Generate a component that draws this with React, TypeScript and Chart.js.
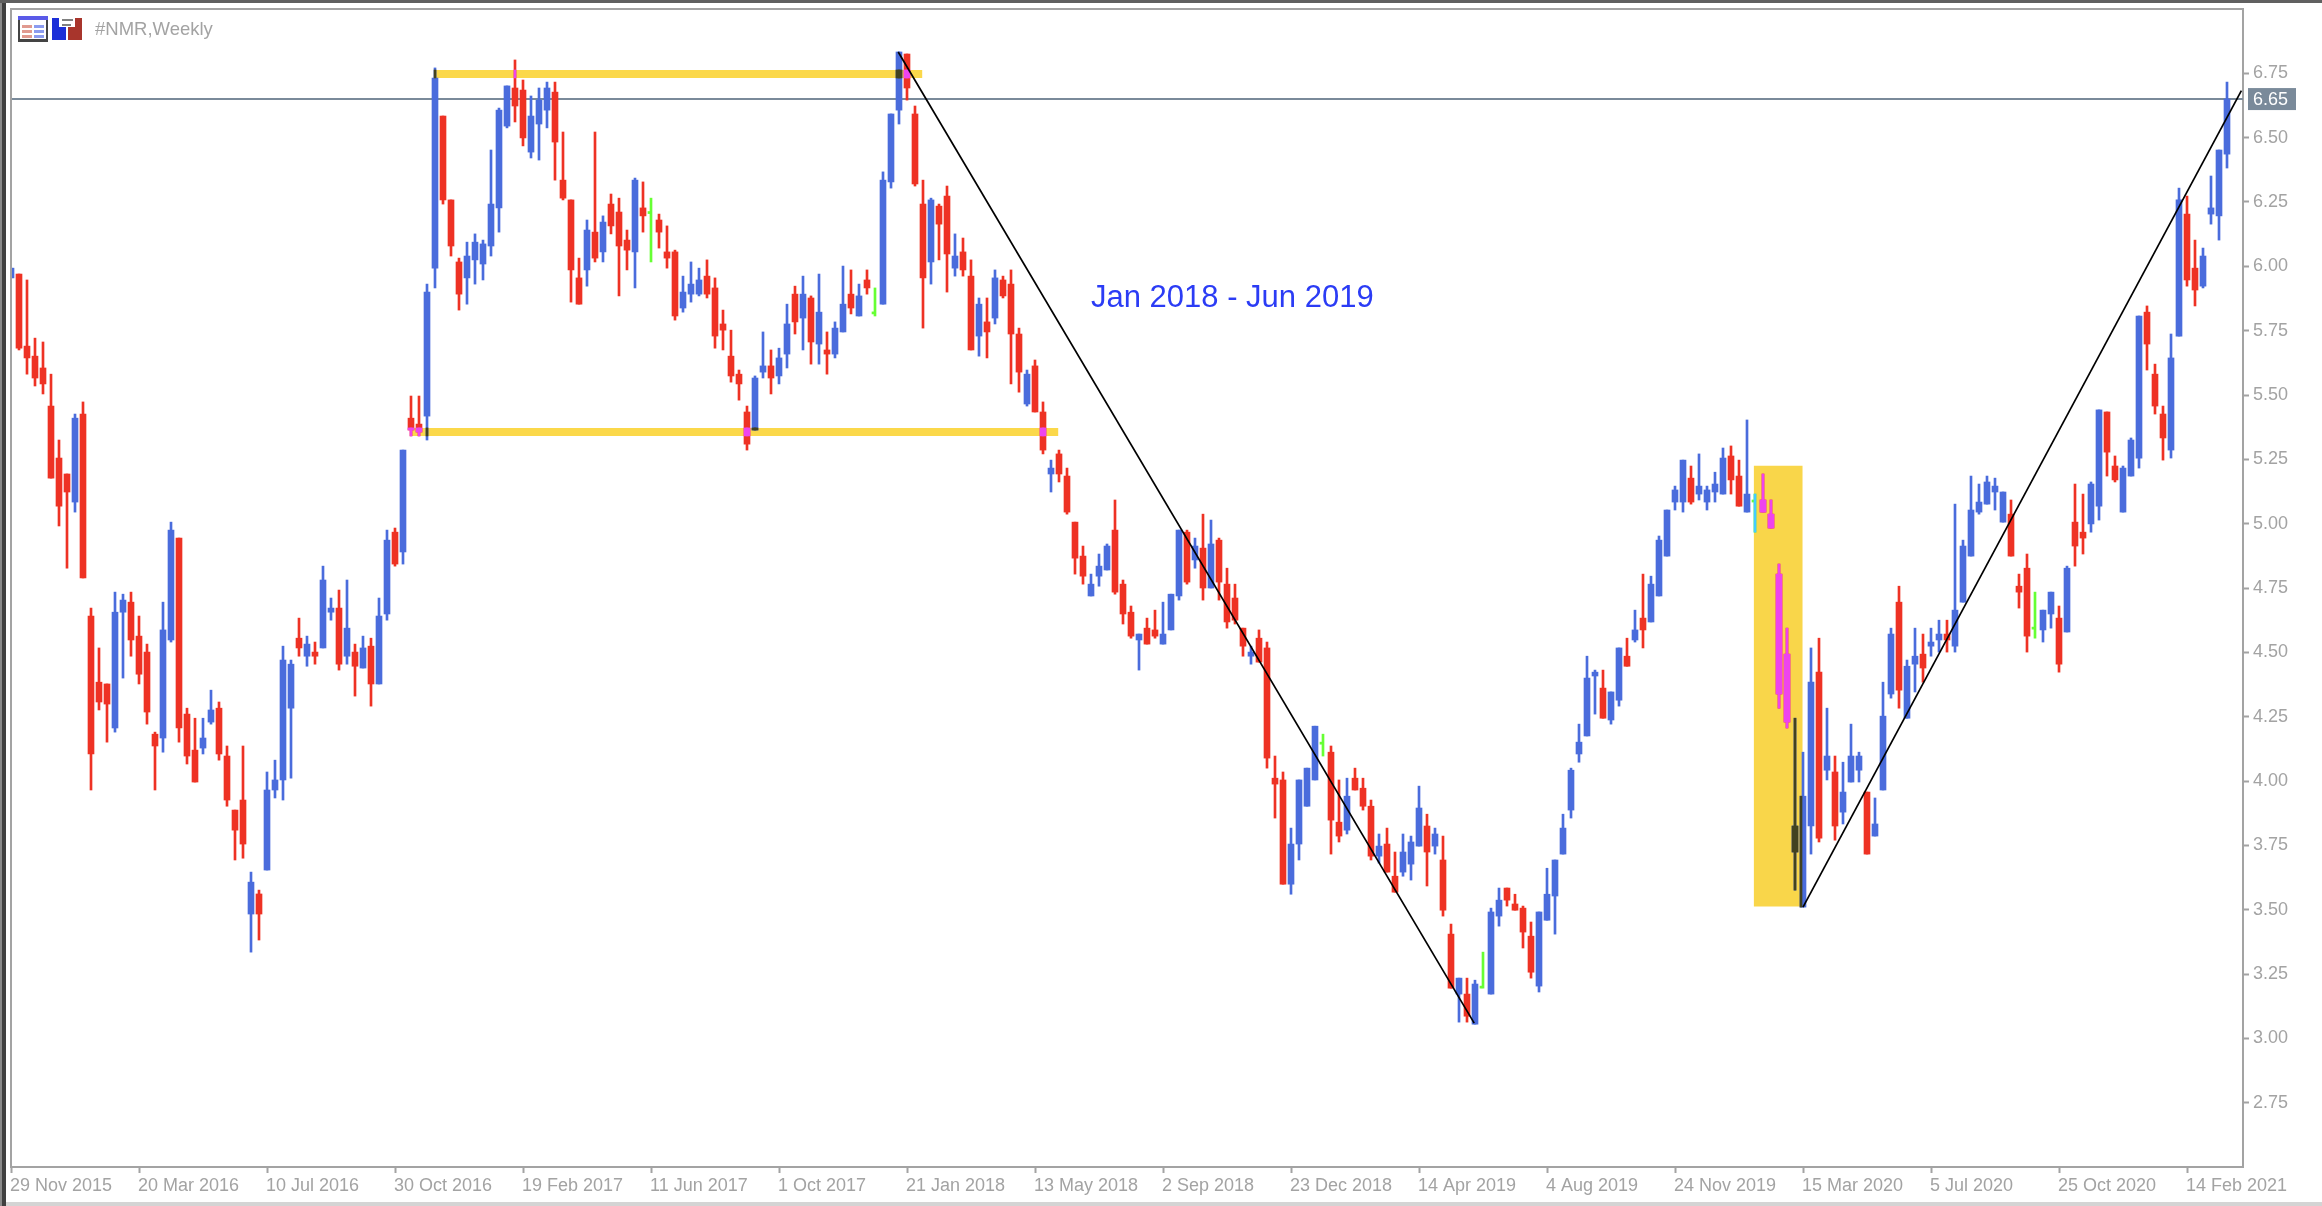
import React, { useEffect, useRef } from "react";
import { Chart, registerables } from "chart.js";

Chart.register(...registerables);

const symbolTitle = "#NMR,Weekly";
const noteText = "Jan 2018 - Jun 2019";
const lastPrice = 6.65;

const dateLabels = ["29 Nov 2015","20 Mar 2016","10 Jul 2016","30 Oct 2016","19 Feb 2017","11 Jun 2017","1 Oct 2017","21 Jan 2018","13 May 2018","2 Sep 2018","23 Dec 2018","14 Apr 2019","4 Aug 2019","24 Nov 2019","15 Mar 2020","5 Jul 2020","25 Oct 2020","14 Feb 2021"];

const highs = [
5.993,5.970,5.947,5.721,5.706,5.581,5.325,5.193,5.426,5.473,
4.672,4.517,4.377,4.734,4.726,4.734,4.641,4.532,4.190,4.695,
5.006,4.944,4.283,4.244,4.244,4.353,4.307,4.136,3.887,4.136,
3.646,3.576,4.035,4.081,4.524,4.470,4.633,4.563,4.540,4.835,
4.711,4.742,4.781,4.532,4.563,4.555,4.711,4.975,4.983,5.286,
5.496,5.496,5.931,6.771,6.584,6.258,6.032,6.094,6.126,6.102,
6.452,6.615,6.701,6.802,6.724,6.662,6.693,6.716,6.716,6.522,
6.258,6.032,6.180,6.522,6.196,6.281,6.265,6.141,6.343,6.328,
6.265,6.203,6.157,6.063,5.962,6.017,5.993,6.025,5.955,5.830,
5.752,5.597,5.457,5.574,5.745,5.675,5.682,5.853,5.923,5.962,
5.885,5.970,5.745,5.784,6.001,5.986,5.931,5.986,5.916,6.367,
6.592,6.833,6.825,6.623,6.335,6.265,6.242,6.312,6.126,6.110,
6.025,5.877,5.877,5.986,5.962,5.986,5.760,5.597,5.636,5.473,
5.247,5.286,5.216,5.006,4.913,4.804,4.882,4.921,5.092,4.781,
4.680,4.571,4.633,4.664,4.695,4.726,4.975,4.975,4.944,5.037,
5.014,4.944,4.827,4.765,4.594,4.524,4.587,4.540,4.097,4.035,
3.817,4.004,4.050,4.213,4.182,4.136,4.004,4.011,4.050,4.011,
3.926,3.794,3.817,3.724,3.794,3.786,3.980,3.871,3.817,3.786,
3.444,3.234,3.234,3.226,3.335,3.506,3.584,3.584,3.560,3.514,
3.452,3.491,3.661,3.693,3.871,4.050,4.221,4.485,4.431,4.431,
4.346,4.517,4.555,4.664,4.804,4.796,4.952,5.053,5.146,5.247,
5.224,5.271,5.146,5.200,5.294,5.302,5.247,5.403,5.115,5.193,
5.092,4.843,4.594,4.244,4.112,4.517,4.555,4.283,4.097,4.073,
4.221,4.112,3.957,3.934,4.384,4.594,4.757,4.470,4.594,4.571,
4.594,4.625,4.625,5.076,4.936,5.185,5.154,5.185,5.177,5.123,
5.092,4.804,4.882,4.734,4.664,4.734,4.680,4.835,5.154,5.115,
5.162,5.442,5.434,5.263,5.224,5.333,5.807,5.846,5.620,5.457,
5.737,6.304,6.273,6.102,6.071,6.351,6.452,6.716];

const lows = [
5.955,5.675,5.581,5.535,5.504,5.177,4.991,4.827,5.045,4.789,
3.965,4.276,4.151,4.190,4.400,4.485,4.377,4.221,3.965,4.112,
4.540,4.151,4.066,3.996,4.105,4.221,4.081,3.902,3.693,3.700,
3.335,3.382,3.654,3.934,3.926,4.011,4.485,4.446,4.454,4.517,
4.625,4.431,4.454,4.330,4.439,4.291,4.377,4.625,4.835,4.843,
5.341,5.341,5.325,5.916,6.242,6.040,5.830,5.853,5.931,5.947,
6.040,6.133,6.538,6.561,6.468,6.421,6.413,6.538,6.335,6.258,
5.861,5.853,5.923,6.017,6.017,6.126,5.885,5.986,5.916,6.133,
6.017,6.071,5.993,5.791,5.822,5.861,5.885,5.877,5.682,5.675,
5.550,5.480,5.286,5.364,5.566,5.504,5.543,5.605,5.737,5.675,
5.620,5.620,5.581,5.644,5.745,5.815,5.807,5.892,5.807,5.853,
6.304,6.553,6.646,6.312,5.760,5.931,6.025,5.900,5.962,5.962,
5.675,5.651,5.644,5.776,5.877,5.543,5.511,5.457,5.434,5.271,
5.123,5.162,5.037,4.804,4.765,4.719,4.757,4.820,4.726,4.610,
4.555,4.431,4.532,4.555,4.532,4.587,4.703,4.765,4.827,4.703,
4.750,4.703,4.594,4.610,4.485,4.454,4.462,4.050,3.856,3.599,
3.560,3.693,3.902,4.004,4.097,3.716,3.763,3.794,3.965,3.887,
3.693,3.681,3.646,3.568,3.630,3.615,3.747,3.592,3.716,3.475,
3.195,3.063,3.063,3.055,3.195,3.172,3.436,3.514,3.498,3.351,
3.234,3.180,3.459,3.405,3.716,3.856,4.073,4.175,4.260,4.244,
4.221,4.291,4.446,4.540,4.517,4.618,4.719,4.874,5.053,5.045,
5.076,5.092,5.053,5.084,5.115,5.115,5.068,5.045,4.967,5.045,
4.983,4.283,4.206,3.576,3.510,3.716,3.763,4.004,3.770,3.833,
3.996,3.996,3.716,3.786,3.965,4.322,4.283,4.244,4.346,4.384,
4.485,4.501,4.501,4.501,4.695,4.874,5.037,5.076,5.053,5.006,
4.874,4.672,4.501,4.555,4.540,4.594,4.423,4.579,4.835,4.882,
4.967,5.014,5.185,5.162,5.045,5.185,5.216,5.597,5.426,5.247,
5.255,5.729,5.923,5.846,5.916,6.164,6.102,6.382];

const opens = [
5.955,5.970,5.690,5.651,5.605,5.457,5.255,5.193,5.084,5.426,
4.641,4.384,4.377,4.206,4.656,4.695,4.563,4.501,4.182,4.167,
4.548,4.944,4.260,4.120,4.128,4.229,4.283,4.097,3.887,3.926,
3.483,3.561,3.654,3.965,4.004,4.283,4.555,4.485,4.501,4.517,
4.656,4.672,4.485,4.501,4.439,4.524,4.377,4.649,4.967,4.890,
5.410,5.387,5.418,5.993,6.584,6.258,6.017,5.955,6.025,6.009,
6.079,6.227,6.545,6.693,6.685,6.444,6.553,6.607,6.677,6.335,
6.258,5.955,5.986,6.133,6.056,6.242,6.211,6.102,6.056,6.227,
6.209,6.180,6.056,6.056,5.838,5.892,5.892,5.962,5.916,5.776,
5.651,5.581,5.434,5.364,5.589,5.613,5.574,5.659,5.892,5.799,
5.877,5.698,5.675,5.659,5.745,5.892,5.807,5.947,5.819,5.853,
6.328,6.607,6.825,6.592,6.242,6.017,6.234,6.273,5.993,6.056,
5.962,5.729,5.784,5.799,5.947,5.931,5.737,5.465,5.613,5.434,
5.193,5.271,5.185,5.006,4.874,4.719,4.796,4.820,4.975,4.765,
4.656,4.548,4.594,4.587,4.532,4.587,4.719,4.967,4.859,4.905,
4.750,4.936,4.765,4.711,4.594,4.485,4.555,4.517,4.011,4.004,
3.599,3.755,3.902,4.004,4.147,4.112,3.840,3.809,4.011,3.972,
3.902,3.708,3.755,3.630,3.646,3.677,3.747,3.825,3.747,3.693,
3.405,3.172,3.172,3.055,3.199,3.172,3.475,3.584,3.522,3.506,
3.397,3.203,3.459,3.553,3.716,3.887,4.105,4.175,4.408,4.361,
4.237,4.314,4.485,4.548,4.633,4.618,4.719,4.874,5.084,5.084,
5.177,5.115,5.084,5.123,5.115,5.263,5.185,5.045,5.088,5.092,
5.037,4.804,4.493,3.724,3.510,3.825,4.423,4.042,4.035,3.879,
3.996,4.042,3.957,3.786,3.965,4.338,4.695,4.244,4.454,4.493,
4.524,4.548,4.571,4.524,4.695,4.874,5.045,5.076,5.123,5.006,
5.037,4.757,4.827,4.594,4.587,4.649,4.633,4.579,5.006,4.967,
4.999,5.068,5.434,5.224,5.045,5.185,5.255,5.822,5.581,5.426,
5.286,5.729,6.203,5.993,5.923,6.203,6.196,6.436];

const closes = [
5.993,5.682,5.644,5.566,5.543,5.177,5.068,5.123,5.410,4.789,
4.105,4.307,4.299,4.656,4.703,4.548,4.415,4.268,4.136,4.587,
4.975,4.206,4.097,3.996,4.167,4.276,4.105,3.926,3.809,3.755,
3.607,3.483,3.965,4.004,4.470,4.454,4.517,4.532,4.485,4.781,
4.672,4.454,4.594,4.446,4.517,4.377,4.641,4.936,4.843,5.286,
5.364,5.356,5.900,6.732,6.258,6.079,5.892,6.040,6.094,6.087,
6.242,6.607,6.701,6.623,6.499,6.584,6.646,6.693,6.483,6.265,
5.986,5.853,6.141,6.032,6.172,6.157,6.079,6.063,6.335,6.196,
6.209,6.133,6.032,5.807,5.900,5.931,5.947,5.892,5.729,5.752,
5.574,5.543,5.309,5.566,5.613,5.566,5.644,5.776,5.784,5.892,
5.706,5.822,5.659,5.760,5.853,5.838,5.885,5.916,5.819,6.335,
6.592,6.833,6.693,6.320,5.955,6.258,6.164,6.048,6.040,5.986,
5.675,5.853,5.745,5.955,5.885,5.737,5.589,5.581,5.434,5.286,
5.216,5.193,5.045,4.866,4.796,4.765,4.835,4.913,4.734,4.649,
4.563,4.571,4.532,4.563,4.571,4.726,4.975,4.773,4.913,4.750,
4.921,4.773,4.618,4.625,4.524,4.501,4.462,4.089,3.988,3.599,
3.755,4.004,4.050,4.213,4.147,3.848,3.786,3.941,3.965,3.902,
3.708,3.747,3.646,3.568,3.724,3.763,3.895,3.724,3.794,3.498,
3.195,3.234,3.086,3.211,3.199,3.491,3.537,3.537,3.498,3.413,
3.257,3.491,3.560,3.693,3.817,4.042,4.151,4.400,4.423,4.244,
4.346,4.517,4.446,4.587,4.587,4.765,4.936,5.053,5.131,5.247,
5.084,5.146,5.131,5.154,5.255,5.170,5.068,5.115,5.088,5.045,
4.983,4.338,4.229,3.825,3.941,4.384,3.778,4.097,3.825,3.957,
4.097,4.097,3.716,3.833,4.252,4.571,4.353,4.446,4.485,4.439,
4.540,4.571,4.548,4.664,4.913,5.053,5.084,5.162,5.146,5.123,
4.874,4.734,4.563,4.594,4.664,4.734,4.454,4.827,4.913,4.944,
5.154,5.442,5.278,5.170,5.216,5.325,5.807,5.698,5.457,5.333,
5.644,6.258,5.947,5.908,6.040,6.227,6.452,6.650];

// Drawn objects, in bar-index / price units
const topBand = { from: 53, to: 113.9, low: 6.732, high: 6.763 };
const bottomBand = { from: 50, to: 130.9, low: 5.341, high: 5.372 };
const shadedBox = { from: 217.9, to: 223.9, low: 3.514, high: 5.224 };
const fallTrend = [{ x: 110.9, y: 6.833 }, { x: 182.9, y: 3.059 }];
const riseTrend = [{ x: 224, y: 3.51 }, { x: 278.8, y: 6.683 }];

const BLUE = "#4A6CDC";
const RED = "#EE3224";
const GREEN = "#66FF33";
const YELLOW = "#FBD84A";
const PINK = "#EE44EE";
const DARK = "#424220";
const CYAN = "#44CCFF";
const AXIS = "#A3A3A3";
const SLATE = "#7A8A9A";
const FONT = "'Liberation Sans', Arial, sans-serif";

const candleIdx = opens.map((_, k) => k);
const isDoji = (k: number) => opens[k] === closes[k];
const baseColor = (k: number) => (isDoji(k) ? GREEN : closes[k] > opens[k] ? BLUE : RED);
const mixColor = (k: number) => (isDoji(k) ? CYAN : closes[k] > opens[k] ? DARK : PINK);

function overlaps(lowOf: (k: number) => number, highOf: (k: number) => number) {
  const out: { x: number; y: number[]; c: string }[] = [];
  for (const band of [topBand, bottomBand, shadedBox]) {
    for (const k of candleIdx) {
      if (k < band.from || k > band.to) continue;
      const a = Math.max(lowOf(k), band.low);
      const b = Math.min(highOf(k), band.high);
      if (b > a) out.push({ x: k, y: [a, b], c: mixColor(k) });
    }
  }
  return out;
}

const frame = {
  id: "frame",
  afterDraw(chart: any) {
    const { ctx, chartArea: a, scales } = chart;
    ctx.save();
    // window frame
    ctx.fillStyle = "#8A8A8A"; ctx.fillRect(0, 0, 2, 1206);
    ctx.fillStyle = "#404040"; ctx.fillRect(2, 0, 4, 1206);
    ctx.fillStyle = "#606060"; ctx.fillRect(0, 0, 2322, 3);
    ctx.fillStyle = "#D4D4D4"; ctx.fillRect(6, 1202, 2316, 4);
    ctx.fillStyle = AXIS;
    ctx.fillRect(a.left - 1, a.top - 1, 2, a.bottom - a.top + 2);
    ctx.fillRect(a.left - 1, a.top - 1, a.right - a.left + 2, 2);
    // toolbar icons
    ctx.fillStyle = "#5A5AE8"; ctx.fillRect(18, 16, 30, 4);
    ctx.fillStyle = "#444"; ctx.fillRect(18, 39, 30, 3); ctx.fillRect(18, 20, 2, 19); ctx.fillRect(46, 20, 2, 19);
    ctx.fillStyle = "#E09A90"; for (let i = 0; i < 3; i++) ctx.fillRect(22, 25 + i * 5, 10, 3);
    ctx.fillStyle = "#8C9CF0"; for (let i = 0; i < 3; i++) ctx.fillRect(34, 25 + i * 5, 10, 3);
    ctx.fillStyle = "#1C2FD8"; ctx.fillRect(52, 18, 7, 22); ctx.fillRect(52, 27, 14, 13);
    ctx.fillStyle = "#A8352C"; ctx.fillRect(75, 18, 7, 22); ctx.fillRect(68, 27, 14, 13);
    ctx.fillStyle = "#808080"; ctx.fillRect(62, 19, 11, 2); ctx.fillRect(62, 24, 9, 2);
    // text
    ctx.textBaseline = "middle";
    ctx.textAlign = "left";
    ctx.fillStyle = AXIS;
    ctx.font = `18.5px ${FONT}`;
    ctx.fillText(symbolTitle, 95, 30);
    ctx.fillStyle = "#2B3CF5";
    ctx.font = `31px ${FONT}`;
    ctx.fillText(noteText, 1091, 298);
    // price tag
    const py = scales.y.getPixelForValue(lastPrice);
    ctx.fillStyle = SLATE;
    ctx.fillRect(2248, py - 11, 48, 22);
    ctx.fillStyle = "#FFFFFF";
    ctx.font = `18px ${FONT}`;
    ctx.fillText(lastPrice.toFixed(2), 2253, py + 1);
    ctx.restore();
  },
};

export default function App() {
  const ref = useRef<HTMLCanvasElement>(null);
  useEffect(() => {
    if (!ref.current) return;
    const wickMix = overlaps((k) => lows[k], (k) => highs[k]);
    const bodyMix = overlaps((k) => Math.min(opens[k], closes[k]), (k) => Math.max(opens[k], closes[k]));
    const bar = (extra: any) => ({ type: "bar", grouped: false, borderWidth: 0, borderSkipped: false, ...extra });
    const line = (extra: any) => ({ type: "line", pointRadius: 0, tension: 0, fill: false, borderCapStyle: "butt", ...extra });
    const chart = new Chart(ref.current, {
      type: "bar",
      plugins: [frame],
      data: {
        datasets: [
          bar({
            label: "box", order: 20, barThickness: 48, backgroundColor: "#F9D64A",
            data: [{ x: (shadedBox.from + shadedBox.to) / 2, y: [shadedBox.low, shadedBox.high] }],
          }),
          line({
            label: "top band", order: 19, borderColor: YELLOW, borderWidth: 8,
            data: [{ x: topBand.from, y: (topBand.low + topBand.high) / 2 }, { x: topBand.to, y: (topBand.low + topBand.high) / 2 }],
          }),
          line({
            label: "bottom band", order: 19, borderColor: YELLOW, borderWidth: 8,
            data: [{ x: bottomBand.from, y: (bottomBand.low + bottomBand.high) / 2 }, { x: bottomBand.to, y: (bottomBand.low + bottomBand.high) / 2 }],
          }),
          line({
            label: "last", order: 18, borderColor: SLATE, borderWidth: 2,
            data: [{ x: 0, y: lastPrice }, { x: 279, y: lastPrice }],
          }),
          bar({
            label: "wicks", order: 10, barThickness: 2,
            backgroundColor: candleIdx.map(baseColor),
            data: candleIdx.map((k) => ({ x: k, y: [lows[k], highs[k]] })),
          }),
          bar({
            label: "bodies", order: 9, barThickness: 6,
            backgroundColor: candleIdx.map((k) => (isDoji(k) ? "rgba(0,0,0,0)" : baseColor(k))),
            data: candleIdx.map((k) => ({ x: k, y: [opens[k], closes[k]] })),
          }),
          bar({
            label: "doji ticks", order: 8, barThickness: 2,
            backgroundColor: GREEN,
            data: candleIdx.filter(isDoji).map((k) => ({ x: k - 0.25, y: [opens[k] - 0.004, opens[k] + 0.004] })),
          }),
          bar({
            label: "wick mix", order: 7, barThickness: 2,
            backgroundColor: wickMix.map((d) => d.c),
            data: wickMix.map((d) => ({ x: d.x, y: d.y })),
          }),
          bar({
            label: "body mix", order: 6, barThickness: 6,
            backgroundColor: bodyMix.map((d) => d.c),
            data: bodyMix.map((d) => ({ x: d.x, y: d.y })),
          }),
          bar({
            label: "box edge", order: 5, barThickness: 2, backgroundColor: DARK,
            data: [{ x: 223.75, y: [Math.min(opens[224], closes[224]), Math.max(opens[224], closes[224])] }],
          }),
          line({ label: "fall", order: 1, borderColor: "#000000", borderWidth: 1.7, data: fallTrend }),
          line({ label: "rise", order: 1, borderColor: "#000000", borderWidth: 1.7, data: riseTrend }),
        ] as any,
      },
      options: {
        responsive: false,
        animation: false,
        devicePixelRatio: 1,
        layout: { padding: { left: 11, top: 9, right: 0, bottom: 0 } },
        plugins: { legend: { display: false }, tooltip: { enabled: false }, title: { display: false } },
        scales: {
          x: {
            type: "linear",
            min: 0,
            max: 279,
            offset: false,
            afterFit: (s: any) => { s.height = 39; s.paddingLeft = 0; s.paddingRight = 0; },
            afterBuildTicks: (s: any) => { s.ticks = dateLabels.map((_, i) => ({ value: i * 16 })); },
            border: { color: AXIS, width: 2 },
            grid: { offset: false, drawOnChartArea: false, drawTicks: true, tickLength: 6, tickColor: AXIS, tickWidth: 2 },
            ticks: {
              autoSkip: false, maxRotation: 0, minRotation: 0, align: "start", padding: 2, labelOffset: -1,
              color: AXIS, font: { family: FONT, size: 18 },
              callback: (v: any) => dateLabels[Math.round(Number(v) / 16)],
            },
          },
          y: {
            type: "linear",
            position: "right",
            min: 2.5,
            max: 7,
            afterFit: (s: any) => { s.width = 79; s.paddingTop = 0; s.paddingBottom = 0; },
            afterBuildTicks: (s: any) => { s.ticks = s.ticks.filter((t: any) => t.value > 2.6 && t.value < 6.9); },
            border: { color: AXIS, width: 2 },
            grid: { drawOnChartArea: false, drawTicks: true, tickLength: 6, tickColor: AXIS, tickWidth: 2 },
            ticks: {
              stepSize: 0.25, padding: 4, color: AXIS, font: { family: FONT, size: 18 },
              callback: (v: any) => Number(v).toFixed(2),
            },
          },
        },
      } as any,
    } as any);
    return () => chart.destroy();
  }, []);
  return (
    <canvas
      ref={ref}
      width={2322}
      height={1206}
      style={{ position: "absolute", left: 0, top: 0, width: 2322, height: 1206, display: "block", background: "#FFFFFF" }}
    />
  );
}
